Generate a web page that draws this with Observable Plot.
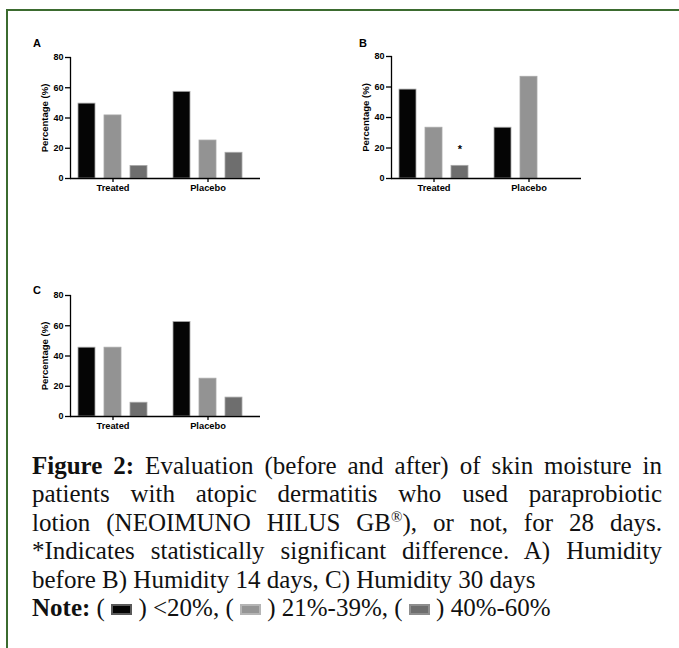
<!DOCTYPE html>
<html>
<head>
<meta charset="utf-8">
<script src="https://cdn.jsdelivr.net/npm/d3@7"></script>
<script src="https://cdn.jsdelivr.net/npm/@observablehq/plot@0.6"></script>
<style>
  body { margin: 0; background: #fff; }
  #fig { position: relative; width: 679px; height: 648px; overflow: hidden; background: #fff; }
  #frame { position: absolute; left: 6px; top: 9px; width: 800px; height: 800px;
           border-top: 2px solid #3b6b2f; border-left: 2px solid #3b6b2f; }
  .panel { position: absolute; }
  .plabel { position: absolute; font: bold 11px "Liberation Sans", Arial, sans-serif; line-height: 11px; color: #000; }
  #caption { position: absolute; left: 32px; width: 630px; top: 452px;
             font-family: "Liberation Serif", serif; font-size: 25px; line-height: 28.4px; color: #111; }
  #caption .j { text-align: justify; text-align-last: justify; }
  #caption b { font-weight: bold; }
  .sw { display: inline-block; width: 17px; height: 7px; border: 2px solid; vertical-align: 1px; }
  .panel g[aria-label="y-axis label"] text { font-size: 9.5px; }
  .panel svg [aria-label$="tick"] path { stroke-width: 1.3px; }
  .panel svg [aria-label="frame"], .panel svg [aria-label="frame"] * { stroke-width: 1.3px; }
</style>
</head>
<body>
<div id="fig">
  <div id="frame"></div>
  <div class="plabel" style="left:33px;top:38px">A</div>
  <div class="plabel" style="left:359px;top:38px">B</div>
  <div class="plabel" style="left:33px;top:285px">C</div>
  <div id="panelA" class="panel" style="left:20px;top:30px"></div>
  <div id="panelB" class="panel" style="left:340px;top:30px"></div>
  <div id="panelC" class="panel" style="left:20px;top:268px"></div>
  <div id="caption">
    <div class="j"><b>Figure 2:</b> Evaluation (before and after) of skin moisture in</div>
    <div class="j">patients with atopic dermatitis who used paraprobiotic</div>
    <div class="j">lotion (NEOIMUNO HILUS GB<sup style="font-size:15px;line-height:0">®</sup>), or not, for 28 days.</div>
    <div class="j">*Indicates statistically significant difference. A) Humidity</div>
    <div>before B) Humidity 14 days, C) Humidity 30 days</div>
    <div><b>Note:</b> ( <span class="sw" style="background:#050505;border-color:#5a5a5a"></span> ) &lt;20%, ( <span class="sw" style="background:#959595;border-color:#b5b5b5"></span> ) 21%-39%, ( <span class="sw" style="background:#6e6e6e;border-color:#8e8e8e"></span> ) 40%-60%</div>
  </div>
</div>
<script>
// ---- data ----
const groups = ["Treated", "Placebo"];
const categories = ["<20%", "21%-39%", "40%-60%"];
const barColors = ["#050505", "#939393", "#6e6e6e"];
const yTicks = [0, 20, 40, 60, 80];

// A) Humidity before
const beforeTreated = [49.5, 41.7, 8.3];
const beforePlacebo = [57.3, 25.1, 17.0];
// B) Humidity 14 days
const day14Treated = [58.3, 33.3, 8.3];
const day14Placebo = [33.3, 66.7, null];
// C) Humidity 30 days
const day30Treated = [45.5, 45.5, 9.1];
const day30Placebo = [62.5, 25.0, 12.5];

// significant differences (asterisk)
const significant = [{panel: "B", group: "Treated", category: "40%-60%"}];

function rowsFor(panel, treated, placebo) {
  const rows = [];
  [treated, placebo].forEach((vals, gi) => {
    vals.forEach((v, ci) => {
      rows.push({
        panel, group: groups[gi], category: categories[ci], value: v,
        sig: significant.some(s => s.panel === panel && s.group === groups[gi] && s.category === categories[ci])
      });
    });
  });
  return rows;
}

function makePanel(rows, dims) {
  return Plot.plot({
    ...dims,
    facet: {data: rows, x: "group"},
    fx: {domain: groups, padding: 0, axis: null},
    x: {domain: categories, paddingInner: 0.34, paddingOuter: 0.48, align: 0.32,
        ticks: [categories[1]], tickFormat: () => "", tickSize: 4, label: null},
    y: {domain: [0, 80], ticks: yTicks, tickSize: 5, tickPadding: 2,
        label: "Percentage (%)", labelAnchor: "center", labelOffset: 29, labelArrow: "none", line: true},
    color: {domain: categories, range: barColors},
    style: {fontFamily: "'Liberation Sans', Arial, sans-serif", fontSize: "9px", fontWeight: "bold", color: "#000", background: "transparent"},
    marks: [
      Plot.barY(rows, {filter: d => d.value != null, x: "category", y: "value", fill: "category",
                       stroke: "#a8a8a8", strokeWidth: 0.8}),
      Plot.ruleY([0], {strokeWidth: 1.4}),
      Plot.text(rows, {filter: d => d.category === categories[1], x: "category", text: "group",
                       frameAnchor: "bottom", lineAnchor: "middle", dy: 10, fontSize: 9.3}),
      Plot.text(rows, {filter: d => d.sig, x: "category", y: "value", text: () => "*",
                       dy: -16, fontSize: 11})
    ]
  });
}

document.getElementById("panelA").append(
  makePanel(rowsFor("A", beforeTreated, beforePlacebo),
    {width: 250, height: 175, marginLeft: 49, marginRight: 10, marginTop: 27, marginBottom: 27}));
document.getElementById("panelB").append(
  makePanel(rowsFor("B", day14Treated, day14Placebo),
    {width: 250, height: 175, marginLeft: 50, marginRight: 9, marginTop: 26, marginBottom: 27}));
document.getElementById("panelC").append(
  makePanel(rowsFor("C", day30Treated, day30Placebo),
    {width: 250, height: 175, marginLeft: 49, marginRight: 10, marginTop: 27, marginBottom: 27}));
</script>
</body>
</html>
